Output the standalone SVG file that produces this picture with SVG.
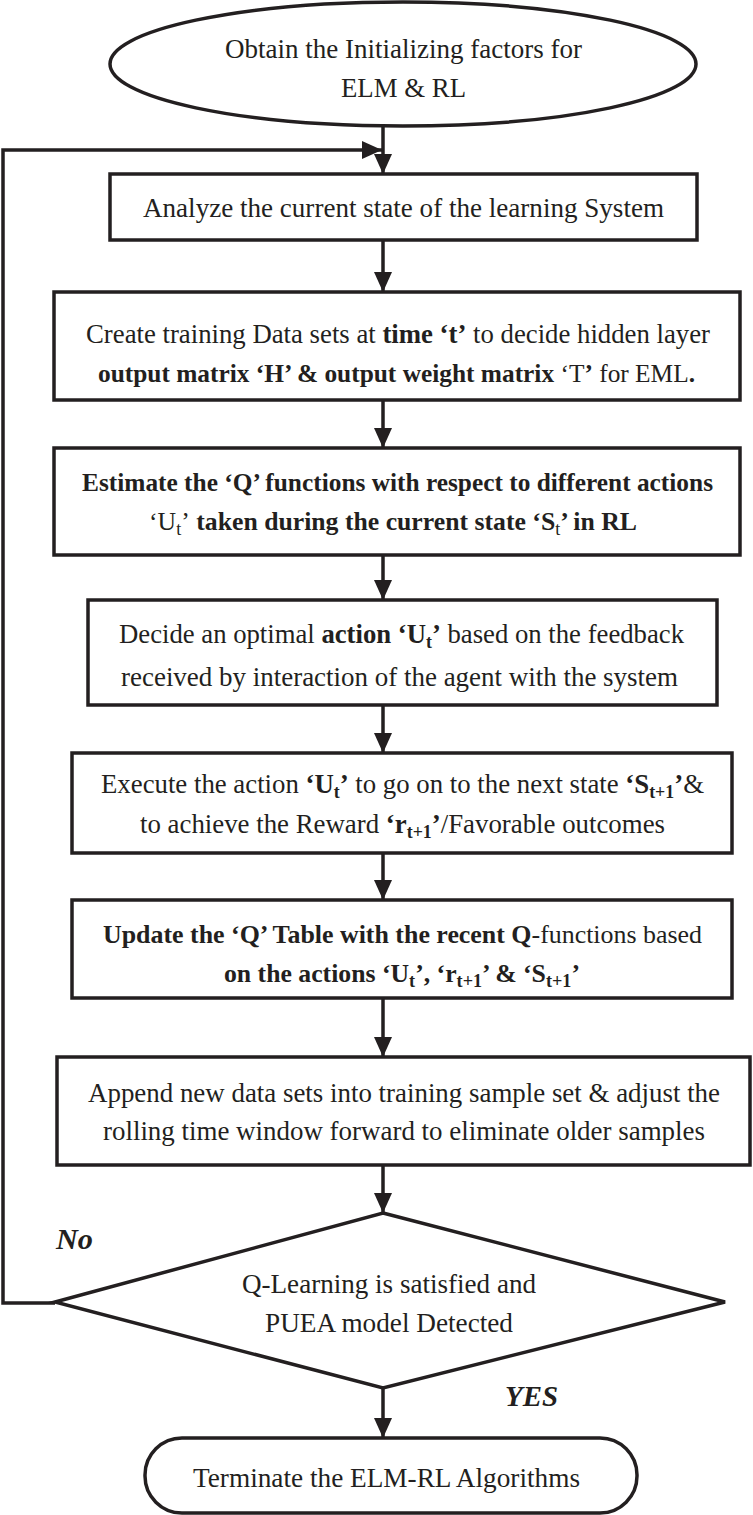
<svg xmlns="http://www.w3.org/2000/svg" width="753" height="1515" viewBox="0 0 753 1515">
<defs>
<style>
.shape{fill:#fff;stroke:#231f20;stroke-width:3.5}
.conn{fill:none;stroke:#231f20;stroke-width:3.5}
text{font-family:"Liberation Serif","Times New Roman",serif;font-size:27px;fill:#231f20}
.b{font-weight:bold}
.bl{font-size:25.5px}
.lbl{font-weight:bold;font-style:italic;font-size:30px}
.s{font-size:18px}
</style>
<marker id="ah" markerUnits="userSpaceOnUse" markerWidth="22" markerHeight="20" refX="20" refY="9" orient="auto" viewBox="0 0 22 20">
<path d="M0,0 L20,9 L0,18 z" fill="#231f20"/>
</marker>
</defs>
<g id="connectors">
<line class="conn" x1="383" y1="127" x2="383" y2="174" marker-end="url(#ah)"/>
<line class="conn" x1="383" y1="240" x2="383" y2="292" marker-end="url(#ah)"/>
<line class="conn" x1="383" y1="400" x2="383" y2="448" marker-end="url(#ah)"/>
<line class="conn" x1="383" y1="555" x2="383" y2="600" marker-end="url(#ah)"/>
<line class="conn" x1="383" y1="705" x2="383" y2="753" marker-end="url(#ah)"/>
<line class="conn" x1="383" y1="853" x2="383" y2="900" marker-end="url(#ah)"/>
<line class="conn" x1="383" y1="998" x2="383" y2="1057" marker-end="url(#ah)"/>
<line class="conn" x1="383" y1="1165" x2="383" y2="1213" marker-end="url(#ah)"/>
<line class="conn" x1="383" y1="1388" x2="383" y2="1438" marker-end="url(#ah)"/>
<polyline class="conn" points="55,1303 3,1303 3,150 382,150" marker-end="url(#ah)"/>
<text class="lbl" x="56" y="1249" textLength="37" lengthAdjust="spacingAndGlyphs">No</text>
<text class="lbl" x="505" y="1406" textLength="53" lengthAdjust="spacingAndGlyphs">YES</text>
</g>
<g id="start">
<ellipse class="shape" cx="403" cy="64" rx="293" ry="62"/>
<text x="225" y="58" textLength="357" lengthAdjust="spacingAndGlyphs">Obtain the Initializing factors for</text>
<text x="341" y="97" textLength="125" lengthAdjust="spacingAndGlyphs">ELM &amp; RL</text>
</g>
<g id="analyze">
<rect class="shape" x="110" y="174" width="587" height="66"/>
<text x="143" y="217" textLength="521" lengthAdjust="spacingAndGlyphs">Analyze the current state of the learning System</text>
</g>
<g id="create">
<rect class="shape" x="54" y="292" width="686" height="108"/>
<text x="86" y="343" textLength="624" lengthAdjust="spacingAndGlyphs">Create training Data sets at <tspan class="b">time ‘t’</tspan> to decide hidden layer</text>
<text class="bl" x="98" y="382" textLength="597" lengthAdjust="spacingAndGlyphs"><tspan class="b">output matrix ‘H’ &amp; output weight matrix </tspan>‘T<tspan class="b">’</tspan> for EML<tspan class="b">.</tspan></text>
</g>
<g id="estimate">
<rect class="shape" x="54" y="448" width="686" height="107"/>
<text class="b bl" x="82" y="491" textLength="631" lengthAdjust="spacingAndGlyphs">Estimate the ‘Q’ functions with respect to different actions</text>
<text class="bl" x="149" y="530" textLength="488" lengthAdjust="spacingAndGlyphs">‘U<tspan class="s" dy="5">t</tspan><tspan dy="-5">’</tspan><tspan class="b"> taken during the current state ‘S</tspan><tspan class="s" dy="5">t</tspan><tspan class="b" dy="-5">’ in RL</tspan></text>
</g>
<g id="decide">
<rect class="shape" x="88" y="600" width="629" height="105"/>
<text x="119" y="643" textLength="565" lengthAdjust="spacingAndGlyphs">Decide an optimal <tspan class="b">action ‘U</tspan><tspan class="b s" dy="5">t</tspan><tspan class="b" dy="-5">’</tspan> based on the feedback</text>
<text x="121" y="686" textLength="557" lengthAdjust="spacingAndGlyphs">received by interaction of the agent with the system</text>
</g>
<g id="execute">
<rect class="shape" x="72" y="753" width="660" height="100"/>
<text x="101" y="793" textLength="603" lengthAdjust="spacingAndGlyphs">Execute the action <tspan class="b">‘U</tspan><tspan class="b s" dy="5">t</tspan><tspan class="b" dy="-5">’</tspan> to go on to the next state <tspan class="b">‘S</tspan><tspan class="b s" dy="5">t+1</tspan><tspan class="b" dy="-5">’</tspan>&amp;</text>
<text x="140" y="833" textLength="525" lengthAdjust="spacingAndGlyphs">to achieve the Reward <tspan class="b">‘r</tspan><tspan class="b s" dy="5">t+1</tspan><tspan class="b" dy="-5">’</tspan>/Favorable outcomes</text>
</g>
<g id="update">
<rect class="shape" x="72" y="900" width="660" height="98"/>
<text class="bl" x="103" y="943" textLength="599" lengthAdjust="spacingAndGlyphs"><tspan class="b">Update the ‘Q’ Table with the recent Q</tspan>-functions based</text>
<text class="b bl" x="224" y="982" textLength="356" lengthAdjust="spacingAndGlyphs">on the actions ‘U<tspan class="s" dy="5">t</tspan><tspan dy="-5">’, ‘r</tspan><tspan class="s" dy="5">t+1</tspan><tspan dy="-5">’ &amp; ‘S</tspan><tspan class="s" dy="5">t+1</tspan><tspan dy="-5">’</tspan></text>
</g>
<g id="append">
<rect class="shape" x="57" y="1057" width="693" height="108"/>
<text x="88" y="1102" textLength="632" lengthAdjust="spacingAndGlyphs">Append new data sets into training sample set &amp; adjust the</text>
<text x="103" y="1140" textLength="602" lengthAdjust="spacingAndGlyphs">rolling time window forward to eliminate older samples</text>
</g>
<g id="decision">
<polygon class="shape" points="383,1213 725,1302 383,1388 55,1302"/>
<text x="242" y="1293" textLength="294" lengthAdjust="spacingAndGlyphs">Q-Learning is satisfied and</text>
<text x="265" y="1332" textLength="248" lengthAdjust="spacingAndGlyphs">PUEA model Detected</text>
</g>
<g id="terminate">
<rect class="shape" x="145" y="1438" width="492" height="75" rx="37" ry="37"/>
<text x="193" y="1487" textLength="387" lengthAdjust="spacingAndGlyphs">Terminate the ELM-RL Algorithms</text>
</g>
</svg>
